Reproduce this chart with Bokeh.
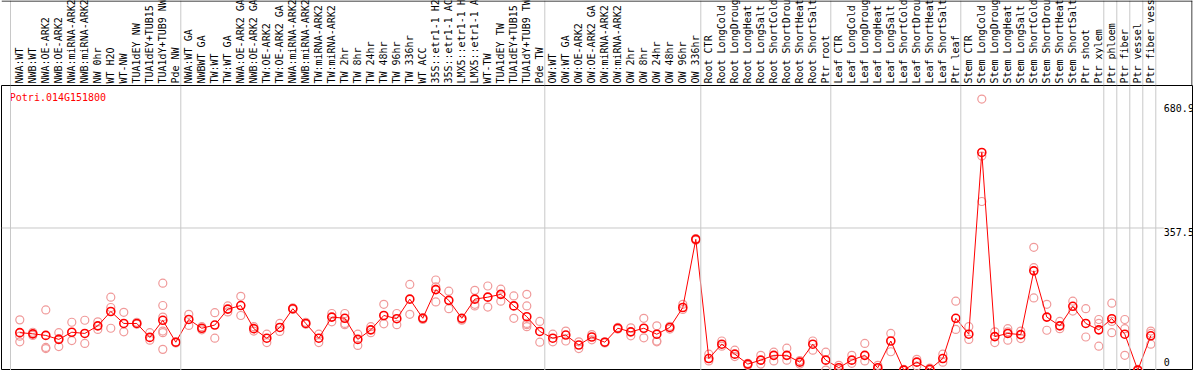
import numpy as np
from bokeh.plotting import figure
from bokeh.layouts import column
from bokeh.models import Range1d, Span
from bokeh.core.properties import value
from bokeh.embed import file_html
from bokeh.resources import INLINE

gene = "Potri.014G151800"

categories = [
    "NWA:WT", "NWB:WT", "NWA:OE-ARK2", "NWB:OE-ARK2", "NWA:miRNA-ARK2", "NWB:miRNA-ARK2",
    "NW 0hr", "WT H2O", "WT-NW", "TUA1dEY NW", "TUA1dEY+TUB15 NW", "TUA1dY+TUB9 NW", "Pde NW",
    "NWA:WT GA", "NWBWT GA", "TW:WT", "TW:WT GA", "NWA:OE-ARK2 GA", "NWB:OE-ARK2 GA",
    "TW:OE-ARK2", "TW:OE-ARK2 GA", "NWA:miRNA-ARK2", "NWB:miRNA-ARK2", "TW:miRNA-ARK2",
    "TW:miRNA-ARK2", "TW 2hr", "TW 8hr", "TW 24hr", "TW 48hr", "TW 96hr", "TW 336hr", "WT ACC",
    "35S::etr1-1 H2O", "35S::etr1-1 ACC", "LMX5::etr1-1 H2O", "LMX5::etr1-1 ACC", "WT-TW",
    "TUA1dEY TW", "TUA1dEY+TUB15 TW", "TUA1dY+TUB9 TW", "Pde TW",
    "OW:WT", "OW:WT GA", "OW:OE-ARK2", "OW:OE-ARK2 GA", "OW:miRNA-ARK2", "OW:miRNA-ARK2",
    "OW 2hr", "OW 8hr", "OW 24hr", "OW 48hr", "OW 96hr", "OW 336hr",
    "Root CTR", "Root LongCold", "Root LongDrought", "Root LongHeat", "Root LongSalt",
    "Root ShortCold", "Root ShortDrought", "Root ShortHeat", "Root ShortSalt", "Ptr root",
    "Leaf CTR", "Leaf LongCold", "Leaf LongDrought", "Leaf LongHeat", "Leaf LongSalt",
    "Leaf ShortCold", "Leaf ShortDrought", "Leaf ShortHeat", "Leaf ShortSalt", "Ptr leaf",
    "Stem CTR", "Stem LongCold", "Stem LongDrought", "Stem LongHeat", "Stem LongSalt",
    "Stem ShortCold", "Stem ShortDrought", "Stem ShortHeat", "Stem ShortSalt", "Ptr shoot",
    "Ptr xylem", "Ptr phloem", "Ptr fiber", "Ptr vessel", "Ptr fiber vessel",
]

means = [
    95, 92, 88, 78, 96, 93, 112, 148, 118, 118, 83, 126, 71,
    128, 106, 114, 154, 163, 105, 81, 108, 155, 118, 81, 134, 131, 78, 102, 138, 130,
    179, 131, 203, 176, 131, 179, 184, 191, 162, 135, 98,
    81, 89, 64, 84, 71, 106, 97, 106, 91, 108, 158, 329,
    30, 66, 41, 16, 26, 38, 38, 21, 66, 26,
    7, 26, 38, 7, 74, 1, 21, 3, 30, 131,
    91, 547, 85, 93, 90, 250, 134, 112, 161, 118, 102,
    130, 91, 1, 87,
]

replicates = [
    [127, 72, 86], [96, 88], [152, 58, 55], [95, 60, 80], [121, 75], [126, 68], [122, 103],
    [184, 158, 106], [146, 97], [121, 116], [95, 76], [219, 163, 134, 99, 95, 53], [72, 69],
    [141, 113], [110, 102], [145, 81], [162, 147], [186, 138], [99, 110], [91, 70], [118, 98],
    [157, 153], [121, 116], [91, 70], [143, 122], [143, 118, 115], [91, 63], [110, 95],
    [166, 117], [143, 115], [216, 141], [133, 128], [227, 172, 210], [199, 155], [128, 126],
    [201, 166, 162], [212, 159], [204, 174], [187, 131], [191, 162, 115, 110, 118], [123, 71],
    [91, 72], [99, 74], [72, 55], [90, 77], [72, 69], [108, 104], [107, 87], [131, 82],
    [112, 74, 72], [111, 104], [166, 153], [331, 327],
    [41, 24], [74, 61], [51, 35], [18, 13], [38, 16], [46, 24], [56, 26], [25, 16], [74, 51],
    [46, 1],
    [13, 3], [38, 18], [68, 24], [13, 4], [93, 47], [3, 1], [28, 11], [6, 1], [41, 21],
    [174, 103],
    [110, 78], [680.9, 538, 424], [97, 70], [105, 76, 97], [99, 80], [309, 258, 182],
    [166, 101], [123, 105], [174, 149], [155, 84], [128, 118, 61],
    [169, 123, 95], [128, 105, 38], [3, 1], [99, 93, 66],
]

group_sizes = [13, 28, 12, 10, 10, 11, 1, 1, 1, 1]
tick_values = [0, 357.5, 680.9]
tick_labels = ["0", "357.5", "680.9"]

# ---- layout constants ----
FONT = "DejaVu Sans Mono"
W = 1194
HEAD_H = 85
MAIN_H = 285
BORDER_L = 1
BORDER_R = 2
FRAME_W = W - BORDER_L - BORDER_R
PX_PER_COL = 13.0
X0 = -18.3 / PX_PER_COL
X1 = X0 + FRAME_W / PX_PER_COL
YMAX = max(max(r) for r in replicates) * 1.05
PPX = YMAX / MAIN_H  # data units per pixel

n = len(categories)
xs = list(range(n))
boundaries = list(np.cumsum(group_sizes) - 1)
sep_x = [X0 + 9.0 / PX_PER_COL] + [b + 0.385 for b in boundaries]
SEP_COLOR = "#c8c8c8"

xr = Range1d(X0, X1)

common = dict(width=W, x_range=xr, output_backend="svg", toolbar_location=None,
              x_axis_type=None, y_axis_type=None, min_border_left=BORDER_L,
              min_border_right=BORDER_R, min_border_top=0, min_border_bottom=0,
              background_fill_color="white", border_fill_color="white")

# ---- header with rotated category labels ----
head = figure(height=HEAD_H, y_range=Range1d(0, HEAD_H), outline_line_color=None, **common)
head.grid.visible = False
for sx in sep_x:
    head.add_layout(Span(location=sx, dimension="height", line_color=SEP_COLOR, line_width=1))
head.text(x=xs, y=[2] * n, text=categories, angle=np.pi / 2, text_align="left",
          text_baseline="middle", text_font=value(FONT), text_font_size="10px",
          text_color="black")
head.add_layout(Span(location=HEAD_H - 0.5, dimension="width", line_color="black", line_width=1))
head.add_layout(Span(location=X1 - 0.5 / PX_PER_COL, dimension="height", line_color="black", line_width=1))

# ---- main plot ----
main = figure(height=MAIN_H, y_range=Range1d(0, YMAX), outline_line_color="black",
              outline_line_width=1, **common)
main.grid.visible = False
for sx in sep_x:
    main.add_layout(Span(location=sx, dimension="height", line_color=SEP_COLOR, line_width=1))
main.segment(x0=[X0], x1=[n], y0=[tick_values[1]], y1=[tick_values[1]],
             line_color=SEP_COLOR, line_width=1)

rx = [i for i, r in enumerate(replicates) for _ in r]
ry = [v for r in replicates for v in r]
main.scatter(rx, ry, marker="circle", size=8, fill_color=None, line_color="#f09a9a", line_width=1.2)
main.line(xs, means, line_color="red", line_width=1)
main.scatter(xs, means, marker="circle", size=8, fill_color=None, line_color="red", line_width=1.6)

# right-hand value labels
label_y = [tick_values[0] + 8.3 * PPX, tick_values[1] - 4.5 * PPX, tick_values[2] - 9.2 * PPX]
main.text(x=[n] * 3, y=label_y, text=tick_labels, text_align="left", text_baseline="middle",
          text_font=value(FONT), text_font_size="10px", text_color="black")

# gene title
main.text(x=[X0 + 8.3 / PX_PER_COL], y=[YMAX - 12 * PPX], text=[gene], text_align="left",
          text_baseline="middle", text_font=value(FONT), text_font_size="10px", text_color="red")

layout = column(head, main, spacing=0)
open("out.html", "w").write(file_html(layout, INLINE))
